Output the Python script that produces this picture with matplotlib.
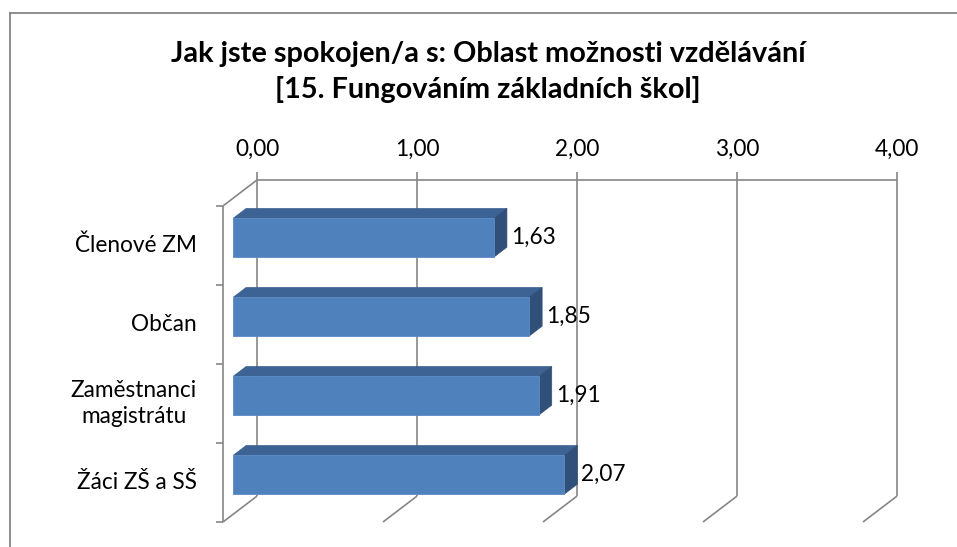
import matplotlib
matplotlib.use('Agg')
import matplotlib.pyplot as plt
from matplotlib.patches import Polygon
from matplotlib.lines import Line2D

# data
categories = ['Členové ZM', 'Občan', 'Zaměstnanci\nmagistrátu', 'Žáci ZŠ a SŠ']
values = [1.63, 1.85, 1.91, 2.07]
ticks = [0, 1, 2, 3, 4]
tick_labels = ['0,00', '1,00', '2,00', '3,00', '4,00']
title = 'Jak jste spokojen/a s: Oblast možnosti vzdělávání\n[15. Fungováním základních škol]'

W, H = 957, 547
FONT = 'Lato'
GRID = '#868686'
FRONT = '#4f81bd'
TOP = '#3d6394'
SIDE = '#30507a'

# oblique 3d offsets (data units) for depth 1 = back wall
DX = 34 / 160.0
DY = 26 / 79.25
D_FRONT, D_BACK = 0.30, 0.68
BAR_H = 0.49


def proj(v, c, d):
    return v + d * DX, c + d * DY


fig = plt.figure(figsize=(W / 100, H / 100), dpi=100)
# chart border
fig.add_artist(Line2D([10 / W, 1.0], [1 - 13 / H, 1 - 13 / H], color=GRID, lw=1.3, transform=fig.transFigure))
fig.add_artist(Line2D([10 / W, 10 / W], [0.0, 1 - 13 / H], color=GRID, lw=1.3, transform=fig.transFigure))

# axes: front plane x=0 at px 223, wall top at px 180, front bottom at px 522
ax = fig.add_axes([223 / W, (H - 522) / H, (897 - 223) / W, (522 - 180) / H])
n = len(categories)
ax.set_xlim(0, ticks[-1] + DX)
ax.set_ylim(0, n + DY)
ax.axis('off')

gkw = dict(color=GRID, lw=1.2, solid_capstyle='butt', clip_on=False, zorder=1)
# value gridlines on wall + floor
for t in ticks:
    xb, yb = proj(t, 0, 1)
    xt, yt = proj(t, n, 1)
    xf, yf = proj(t, 0, 0)
    ax.plot([xb, xb], [yb, yt + 0.1], **gkw)
    ax.plot([xf, xb], [yf, yb], **gkw)
# top edge of wall
x0, y0 = proj(0, n, 1)
x1, y1 = proj(ticks[-1], n, 1)
ax.plot([x0, x1], [y0, y1], **gkw)
# left side: top diagonal, front vertical axis
xf, yf = proj(0, n, 0)
ax.plot([xf, x0], [yf, y0], **gkw)
ax.plot([0, 0], [0, n], **gkw)
for i in range(n + 1):
    ax.plot([-0.045, 0], [i, i], **gkw)

# tick labels above the wall
for t, lab in zip(ticks, tick_labels):
    xt, yt = proj(t, n, 1)
    ax.text(xt, yt + 0.39, lab, ha='center', va='center', fontsize=16.3, family=FONT, color='black')

# bars
for i, (cat, v) in enumerate(zip(categories, values)):
    c = n - i - 0.5
    yb0 = c - BAR_H / 2
    yb1 = c + BAR_H / 2
    f0 = proj(0, yb0, D_FRONT)
    f1 = proj(0, yb1, D_FRONT)
    b1 = proj(0, yb1, D_BACK)
    b0 = proj(0, yb0, D_BACK)
    front = [(f0[0], f0[1]), (f0[0] + v, f0[1]), (f1[0] + v, f1[1]), (f1[0], f1[1])]
    top = [(f1[0], f1[1]), (f1[0] + v, f1[1]), (b1[0] + v, b1[1]), (b1[0], b1[1])]
    side = [(f0[0] + v, f0[1]), (b0[0] + v, b0[1]), (b1[0] + v, b1[1]), (f1[0] + v, f1[1])]
    ax.add_patch(Polygon(top, closed=True, facecolor=TOP, edgecolor=TOP, lw=0.5, zorder=3))
    ax.add_patch(Polygon(side, closed=True, facecolor=SIDE, edgecolor=SIDE, lw=0.5, zorder=3))
    ax.add_patch(Polygon(front, closed=True, facecolor=FRONT, edgecolor='#5a8ac6', lw=0.6, zorder=3))
    # value label
    lx, ly = proj(v, c, D_BACK)
    ax.annotate(f'{v:.2f}'.replace('.', ','), (lx, c + D_FRONT * DY), xytext=(4, 0),
                textcoords='offset pixels', ha='left', va='center', fontsize=16.3, family=FONT, zorder=4)
    # category label
    ax.annotate(cat, (0, c), xytext=(-26, 0), textcoords='offset pixels', ha='right', va='center',
                fontsize=16.3, family=FONT, linespacing=1.25, multialignment='center')

fig.text(488 / W, 1 - 72 / H, title, ha='center', va='center', fontsize=20.8, fontweight='bold',
         family=FONT, linespacing=1.4)

fig.savefig('out.png', dpi=100)
